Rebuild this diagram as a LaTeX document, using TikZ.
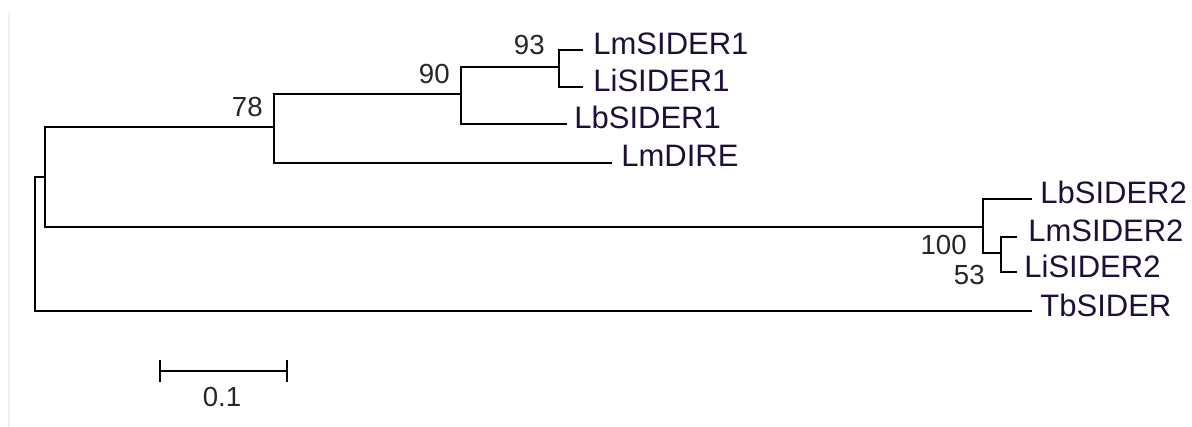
\documentclass[tikz,border=0pt]{standalone}
\usepackage{fontspec}
\setmainfont{Liberation Sans}
\definecolor{taxoncol}{RGB}{30,14,56}

\begin{document}
\begin{tikzpicture}[x=0.5pt, y=-0.5pt,
  branch/.style={line width=1.05pt},
  taxon/.style={anchor=base west, inner sep=0pt, text=taxoncol,
    font=\fontsize{15.5}{18}\selectfont},
  boot/.style={inner sep=0pt, text=black!85, font=\fontsize{13.8}{16}\selectfont}]

  \useasboundingbox (0,0) rectangle (1192,427);

  % faint frame edge on the left
  \draw[gray!12, line width=1pt] (9,12) -- (9,427);

  % internal nodes
  \coordinate (root) at (35,244);
  \coordinate (nA) at (45,177);
  \coordinate (nB) at (274,127);
  \coordinate (nC) at (461,94);
  \coordinate (nD) at (559,67);
  \coordinate (nE) at (983,227);
  \coordinate (nF) at (1001,253);

  % branch tips
  \coordinate (tLmSIDER1) at (583,50);
  \coordinate (tLiSIDER1) at (583,87);
  \coordinate (tLbSIDER1) at (567,124);
  \coordinate (tLmDIRE) at (612,163);
  \coordinate (tLbSIDER2) at (1032,199);
  \coordinate (tLmSIDER2) at (1017,237);
  \coordinate (tLiSIDER2) at (1017,272);
  \coordinate (tTbSIDER) at (1032,311);

  % taxa
  \node[taxon] (LmSIDER1) at ([shift={(10,5)}]tLmSIDER1) {LmSIDER1};
  \node[taxon] (LiSIDER1) at ([shift={(10,5)}]tLiSIDER1) {LiSIDER1};
  \node[taxon] (LbSIDER1) at ([shift={(7,5)}]tLbSIDER1) {LbSIDER1};
  \node[taxon] (LmDIRE) at ([shift={(9,4)}]tLmDIRE) {LmDIRE};
  \node[taxon] (LbSIDER2) at ([shift={(8,5)}]tLbSIDER2) {LbSIDER2};
  \node[taxon] (LmSIDER2) at ([shift={(11,5)}]tLmSIDER2) {LmSIDER2};
  \node[taxon] (LiSIDER2) at ([shift={(7,5)}]tLiSIDER2) {LiSIDER2};
  \node[taxon] (TbSIDER) at ([shift={(8,5)}]tTbSIDER) {TbSIDER};

  % tree
  \draw[branch] (root) |- (nA);
  \draw[branch] (root) |- (tTbSIDER);
  \draw[branch] (nA) |- (nB);
  \draw[branch] (nA) |- (nE);
  \draw[branch] (nB) |- (nC);
  \draw[branch] (nB) |- (tLmDIRE);
  \draw[branch] (nC) |- (nD);
  \draw[branch] (nC) |- (tLbSIDER1);
  \draw[branch] (nD) |- (tLmSIDER1);
  \draw[branch] (nD) |- (tLiSIDER1);
  \draw[branch] (nE) |- (tLbSIDER2);
  \draw[branch] (nE) |- (nF);
  \draw[branch] (nF) |- (tLmSIDER2);
  \draw[branch] (nF) |- (tLiSIDER2);

  % bootstrap values
  \node[boot, anchor=south east] (bB) at ([shift={(-11,-10)}]nB) {78};
  \node[boot, anchor=south east] (bC) at ([shift={(-11,-10)}]nC) {90};
  \node[boot, anchor=south east] (bD) at ([shift={(-14,-12)}]nD) {93};
  \node[boot, anchor=north east] (bE) at ([shift={(-16,8)}]nE) {100};
  \node[boot, anchor=north east] (bF) at ([shift={(-16,12)}]nF) {53};

  % scale bar
  \coordinate (sbL) at (160,371);
  \coordinate (sbR) at (287,371);
  \coordinate (sbmid) at (222,371);
  \draw[branch] (sbL) -- (sbR);
  \draw[branch] ([shift={(0,-11)}]sbL) -- ([shift={(0,11)}]sbL);
  \draw[branch] ([shift={(0,-11)}]sbR) -- ([shift={(0,11)}]sbR);
  \node[boot, anchor=north] (sbtext) at ([shift={(0,16)}]sbmid) {0.1};

\end{tikzpicture}
\end{document}
